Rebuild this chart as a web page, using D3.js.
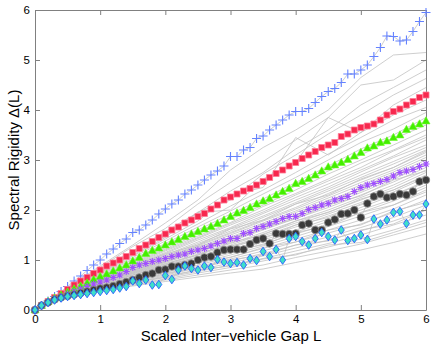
<!DOCTYPE html>
<html><head><meta charset="utf-8">
<script src="https://cdn.jsdelivr.net/npm/d3@7"></script>
<style>
html,body{margin:0;padding:0;background:#fff;}
text{font-family:"Liberation Sans",Arial,Helvetica,sans-serif;}
</style></head>
<body><div id="chart"></div>
<script>
// ---- data ----
const xTicks = [0,1,2,3,4,5,6];
const yTicks = [0,1,2,3,4,5,6];
const xLabel = "Scaled Inter\u2212vehicle Gap L";
const yLabel = "Spectral Rigidity \u0394(L)";

// marker series sampled every 0.1 in L
const markerX = [0,0.1,0.2,0.3,0.4,0.5,0.6,0.7,0.8,0.9,1,1.1,1.2,1.3,1.4,1.5,1.6,1.7,1.8,1.9,2,2.1,2.2,2.3,2.4,2.5,2.6,2.7,2.8,2.9,3,3.1,3.2,3.3,3.4,3.5,3.6,3.7,3.8,3.9,4,4.1,4.2,4.3,4.4,4.5,4.6,4.7,4.8,4.9,5,5.1,5.2,5.3,5.4,5.5,5.6,5.7,5.8,5.9,6];
const blueSeries = [0,0.09,0.18,0.27,0.37,0.47,0.58,0.68,0.79,0.9,1.0, 1.12,1.22,1.33,1.42,1.55,1.6,1.7,1.8,1.92,2.02, 2.12,2.2,2.32,2.4,2.5,2.6,2.7,2.78,2.88,3.07, 3.07,3.2,3.25,3.43,3.48,3.6,3.7,3.8,3.9,3.97, 3.97,4.03,4.15,4.27,4.37,4.43,4.55,4.72,4.72,4.8, 4.9,5.07,5.25,5.48,5.47,5.38,5.4,5.57,5.77,5.95];
const redSeries = [0,0.09,0.17,0.25,0.33,0.41,0.5,0.58,0.65,0.73,0.8, 0.88,0.94,1.0,1.07,1.15,1.23,1.3,1.37,1.45,1.52, 1.6,1.66,1.74,1.8,1.87,1.93,2.02,2.1,2.2,2.26, 2.32,2.38,2.43,2.5,2.57,2.65,2.73,2.8,2.88,2.95, 3.03,3.1,3.17,3.25,3.3,3.35,3.47,3.52,3.6,3.65, 3.68,3.72,3.8,3.9,3.97,4.02,4.1,4.17,4.25,4.3];
const greenSeries = [0,0.09,0.17,0.24,0.3,0.36,0.42,0.48,0.54,0.61,0.67, 0.72,0.78,0.84,0.9,0.98,1.05,1.13,1.19,1.24,1.3, 1.36,1.41,1.47,1.52,1.57,1.62,1.67,1.73,1.8,1.87, 1.94,1.99,2.05,2.12,2.18,2.23,2.3,2.37,2.43,2.53, 2.57,2.63,2.7,2.78,2.86,2.9,2.95,3.01,3.08,3.15, 3.24,3.28,3.35,3.38,3.45,3.5,3.61,3.67,3.72,3.78];
const purpleSeries = [0,0.09,0.16,0.22,0.27,0.32,0.37,0.42,0.47,0.52,0.56, 0.6,0.65,0.7,0.77,0.85,0.9,0.93,0.97,1.0,1.03, 1.07,1.1,1.12,1.17,1.2,1.23,1.28,1.33,1.38,1.43, 1.43,1.53,1.55,1.63,1.67,1.72,1.77,1.83,1.87,1.87, 1.93,2.01,2.05,2.1,2.13,2.2,2.23,2.27,2.37,2.45, 2.5,2.53,2.57,2.61,2.68,2.75,2.78,2.81,2.87,2.92];
const blackSeries = [0,0.09,0.15,0.21,0.25,0.28,0.31,0.34,0.37,0.4,0.43, 0.45,0.48,0.52,0.56,0.6,0.65,0.7,0.73,0.8,0.81, 0.87,0.87,0.9,0.93,1.0,1.05,1.07,1.15,1.2,1.21, 1.21,1.21,1.32,1.4,1.43,1.33,1.53,1.52,1.52,1.53, 1.7,1.73,1.6,1.6,1.75,1.81,1.92,1.93,2.0,1.85, 2.13,2.27,2.32,2.25,2.27,2.32,2.3,2.37,2.57,2.6];
const cyanSeries = [0,0.09,0.15,0.2,0.24,0.27,0.29,0.31,0.33,0.35,0.37, 0.39,0.41,0.44,0.47,0.58,0.53,0.6,0.5,0.51,0.69, 0.61,0.8,0.88,0.83,0.8,0.88,0.85,1.01,0.96,0.93, 0.95,0.9,1.03,0.99,1.17,1.07,1.21,1.0,1.43,1.47, 1.37,1.3,1.43,1.55,1.47,1.4,1.6,1.39,1.43,1.5, 1.41,1.82,1.72,1.8,1.95,1.97,1.73,1.9,1.9,2.12];

// background (gray) realisations sampled every 0.5 in L
const grayX = [0,0.5,1,1.5,2,2.5,3,3.5,4,4.5,5,5.5,6];
const grayLines = [
 [0,0.45,0.88,1.3,1.74,2.2,2.8,3.25,3.6,4.0,4.65,5.1,5.15],
 [0,0.44,0.85,1.27,1.63,2.12,2.55,2.97,3.4,3.85,4.5,4.6,5.0],
 [0,0.42,0.82,1.18,1.57,1.95,2.38,2.75,3.22,3.6,4.1,4.45,4.8],
 [0,0.41,0.78,1.14,1.48,1.96,2.2,2.72,3.1,3.52,3.9,4.3,4.63],
 [0,0.41,0.77,1.1,1.45,1.95,2.0,2.62,2.95,3.85,3.55,4.1,4.45],
 [0,0.4,0.75,1.08,1.42,1.78,2.3,2.45,3.45,3.1,3.55,3.9,4.2],
 [0,0.4,0.74,1.05,1.38,1.72,2.08,2.4,2.75,3.12,3.45,3.8,4.05],
 [0,0.39,0.72,1.02,1.33,1.66,1.98,2.32,2.65,3.0,3.35,3.62,3.95],
 [0,0.38,0.7,1.0,1.3,1.6,1.92,2.22,2.55,2.88,3.22,3.5,3.85],
 [0,0.38,0.68,0.97,1.25,1.57,1.85,2.17,2.48,2.78,3.1,3.42,3.7],
 [0,0.37,0.67,0.95,1.22,1.52,1.82,2.1,2.4,2.72,3.0,3.3,3.6],
 [0,0.37,0.66,0.93,1.2,1.48,1.75,2.07,2.33,2.62,2.94,3.2,3.5],
 [0,0.36,0.65,0.91,1.18,1.45,1.73,2.0,2.3,2.58,2.85,3.18,3.45],
 [0,0.36,0.64,0.9,1.15,1.43,1.7,1.96,2.25,2.52,2.8,3.08,3.4],
 [0,0.35,0.63,0.88,1.13,1.4,1.65,1.93,2.2,2.46,2.76,3.05,3.3],
 [0,0.35,0.62,0.86,1.1,1.36,1.63,1.88,2.15,2.42,2.7,2.97,3.25],
 [0,0.35,0.6,0.85,1.08,1.33,1.58,1.85,2.12,2.38,2.65,2.92,3.2],
 [0,0.34,0.6,0.83,1.06,1.3,1.55,1.8,2.05,2.33,2.6,2.85,3.15],
 [0,0.34,0.59,0.82,1.05,1.28,1.53,1.78,2.02,2.28,2.55,2.8,3.1],
 [0,0.34,0.58,0.8,1.02,1.25,1.5,1.74,1.98,2.24,2.5,2.76,3.05],
 [0,0.33,0.57,0.79,1.0,1.22,1.46,1.7,1.95,2.18,2.45,2.72,3.0],
 [0,0.33,0.56,0.77,0.98,1.2,1.43,1.66,1.9,2.15,2.4,2.66,2.95],
 [0,0.33,0.55,0.76,0.96,1.18,1.4,1.62,1.86,2.1,2.35,2.62,2.9],
 [0,0.32,0.55,0.75,0.95,1.15,1.37,1.6,1.83,2.05,2.3,2.56,2.85],
 [0,0.32,0.54,0.73,0.92,1.12,1.33,1.55,1.78,2.0,2.25,2.5,2.8],
 [0,0.32,0.53,0.72,0.9,1.1,1.3,1.52,1.74,1.96,2.2,2.45,2.75],
 [0,0.31,0.52,0.7,0.88,1.07,1.27,1.48,1.7,1.92,2.15,2.4,2.7],
 [0,0.31,0.51,0.69,0.86,1.05,1.24,1.45,1.66,1.88,2.1,2.36,2.65],
 [0,0.31,0.5,0.67,0.84,1.02,1.2,1.4,1.6,1.82,2.05,2.3,2.55],
 [0,0.3,0.49,0.65,0.82,0.99,1.17,1.36,1.56,1.77,2.0,2.22,2.5],
 [0,0.3,0.48,0.64,0.8,0.96,1.14,1.32,1.52,1.72,1.95,2.18,2.45],
 [0,0.3,0.47,0.62,0.78,0.94,1.1,1.28,1.47,1.67,1.88,2.1,2.4],
 [0,0.29,0.46,0.6,0.75,0.9,1.06,1.23,1.42,1.6,1.8,2.02,2.3],
 [0,0.29,0.45,0.59,0.73,0.87,1.02,1.18,1.36,1.54,1.72,1.95,2.2],
 [0,0.28,0.44,0.57,0.7,0.84,0.98,1.13,1.3,1.46,1.65,1.85,2.1],
 [0,0.28,0.43,0.55,0.68,0.8,0.94,1.08,1.24,1.4,1.58,1.78,2.0],
 [0,0.27,0.42,0.54,0.65,0.77,0.9,1.03,1.18,1.33,1.5,1.7,1.9],
 [0,0.27,0.41,0.52,0.62,0.74,0.85,0.98,1.12,1.26,1.42,1.6,1.8],
 [0,0.26,0.4,0.5,0.6,0.7,0.8,0.9,1.05,1.18,1.32,1.5,1.68],
 [0,0.26,0.39,0.48,0.57,0.66,0.74,0.82,0.95,1.08,1.2,1.35,1.52],
 [0,0.36,0.6,0.88,1.12,1.3,1.62,1.8,2.12,2.3,2.62,2.85,3.18],
 [0,0.33,0.58,0.78,1.02,1.27,1.42,1.72,1.9,2.2,2.38,2.7,2.92],
 [0,0.34,0.56,0.8,0.97,1.22,1.38,1.65,1.82,2.1,2.28,2.6,2.78],
 [0,0.32,0.53,0.74,0.93,1.1,1.35,1.5,1.78,1.95,2.22,2.4,2.68],
 [0,0.31,0.52,0.7,0.9,1.05,1.28,1.42,1.7,1.85,2.12,2.3,2.58],
 [0,0.3,0.5,0.66,0.84,0.98,1.2,1.3,1.55,1.68,1.95,2.1,2.36],
 [0,0.3,0.47,0.63,0.77,0.95,1.05,1.25,1.36,1.6,1.7,1.98,2.15],
 [0,0.28,0.45,0.58,0.72,0.85,1.0,1.1,1.3,1.38,1.6,1.72,2.0],
 [0,0.27,0.43,0.55,0.66,0.8,0.88,1.02,1.1,1.3,1.35,1.55,1.75]
];

// ---- drawing ----
const W = 436, H = 346;
const x = d3.scaleLinear().domain([0,6]).range([35,426]);
const y = d3.scaleLinear().domain([0,6]).range([310,10]);

const svg = d3.select("#chart").append("svg").attr("width",W).attr("height",H);

const line = d3.line().x(d=>x(d[0])).y(d=>y(d[1]));
svg.append("defs").append("clipPath").attr("id","clip")
  .append("rect").attr("x",35).attr("y",10).attr("width",391).attr("height",300);

const plot = svg.append("g").attr("clip-path","url(#clip)");

plot.selectAll("path.gray").data(grayLines).join("path")
  .attr("class","gray")
  .attr("d", d => line(d.map((v,i)=>[grayX[i],v])))
  .attr("fill","none").attr("stroke","#c2c2c2").attr("stroke-width",0.8);

const series = [
  {vals: blueSeries, type:"plus"},
  {vals: redSeries, type:"square"},
  {vals: greenSeries, type:"triangle"},
  {vals: purpleSeries, type:"star"},
  {vals: blackSeries, type:"circle"},
  {vals: cyanSeries, type:"diamond"}
];

series.forEach(s=>{
  plot.append("path").attr("d", line(s.vals.map((v,i)=>[markerX[i],v])))
    .attr("fill","none").attr("stroke","#c2c2c2").attr("stroke-width",0.8);
});

// axes (box with inward ticks)
const frameColor = "#808080";
const axB = svg.append("g").attr("transform","translate(0,310)")
  .call(d3.axisBottom(x).tickValues(xTicks).tickSizeInner(-5).tickSizeOuter(0).tickPadding(5).tickFormat(d3.format("d")));
const axL = svg.append("g").attr("transform","translate(35,0)")
  .call(d3.axisLeft(y).tickValues(yTicks).tickSizeInner(-5).tickSizeOuter(0).tickPadding(5).tickFormat(d3.format("d")));
const axT = svg.append("g").attr("transform","translate(0,10)")
  .call(d3.axisTop(x).tickValues(xTicks).tickSizeInner(-5).tickSizeOuter(0).tickFormat(""));
const axR = svg.append("g").attr("transform","translate(426,0)")
  .call(d3.axisRight(y).tickValues(yTicks).tickSizeInner(-5).tickSizeOuter(0).tickFormat(""));
[axB,axL,axT,axR].forEach(a=>{
  a.select(".domain").attr("stroke",frameColor).attr("stroke-width",1);
  a.selectAll(".tick line").attr("stroke",frameColor);
  a.selectAll("text").attr("fill","#000").style("font-size","11.5px").style("font-family","Liberation Sans, Arial, sans-serif");
});

// markers on top
const g2 = svg.append("g");
series.forEach(s=>{
  const pts = s.vals.map((v,i)=>[markerX[i],v]);
  const sel = g2.append("g").selectAll("path").data(pts).join("path")
    .attr("transform", d=>`translate(${x(d[0])},${y(d[1])})`);
  if(s.type==="plus"){
    sel.attr("d","M-4.5,0H4.5M0,-4.5V4.5").attr("stroke","#6482ff").attr("stroke-width",1.1).attr("fill","none");
  } else if(s.type==="square"){
    sel.attr("d","M-3,-3H3V3H-3Z").attr("fill","#f7284e").attr("stroke","#ff7a96").attr("stroke-width",0.8);
  } else if(s.type==="triangle"){
    sel.attr("d","M0,-4.2L4,2.9L-4,2.9Z").attr("fill","#44ee00").attr("stroke","#66ff22").attr("stroke-width",0.6);
  } else if(s.type==="star"){
    sel.attr("d","M-3.5,0H3.5M0,-3.5V3.5M-2.6,-2.6L2.6,2.6M-2.6,2.6L2.6,-2.6").attr("stroke","#a050ff").attr("stroke-width",1.1).attr("fill","none");
  } else if(s.type==="circle"){
    sel.attr("d", d3.symbol(d3.symbolCircle, 44)()).attr("fill","#3a3a3a").attr("stroke","#8a8a8a").attr("stroke-width",0.8);
  } else if(s.type==="diamond"){
    sel.attr("d","M0,-4.3L3,0L0,4.3L-3,0Z").attr("fill","#3ee0c8").attr("stroke","#2a5cff").attr("stroke-width",0.9);
  }
});

svg.append("text").attr("x",231).attr("y",341).attr("text-anchor","middle")
  .style("font-size","15px").attr("fill","#000").text(xLabel);
svg.append("text").attr("transform","translate(19,160) rotate(-90)").attr("text-anchor","middle")
  .style("font-size","15px").attr("fill","#000").text(yLabel);
</script>
</body></html>
